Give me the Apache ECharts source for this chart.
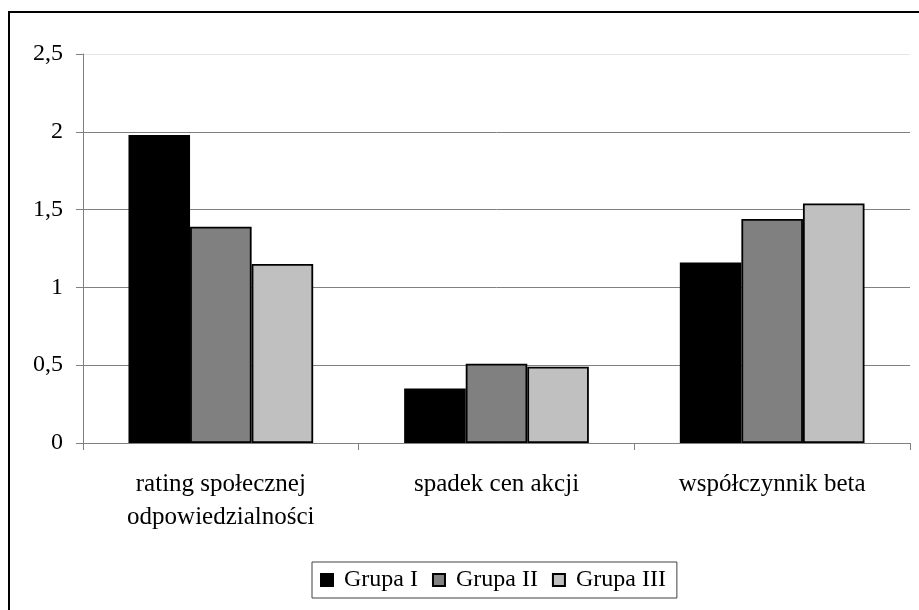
<!DOCTYPE html>
<html>
<head>
<meta charset="utf-8">
<script src="https://cdn.jsdelivr.net/npm/echarts@6/dist/echarts.min.js"></script>
<style>html,body{margin:0;padding:0;background:#fff;}#c{width:919px;height:610px;}</style>
</head>
<body>
<div id="c"></div>
<script>
const categories = ['rating społecznej\nodpowiedzialności', 'spadek cen akcji', 'współczynnik beta'];
const seriesNames = ['Grupa I', 'Grupa II', 'Grupa III'];
const grupa1 = [1.98, 0.35, 1.16];
const grupa2 = [1.39, 0.51, 1.44];
const grupa3 = [1.15, 0.49, 1.54];
const colors = ['#000000', '#808080', '#c0c0c0'];
const font = "'Liberation Serif', 'Times New Roman', serif";

const chart = echarts.init(document.getElementById('c'));
const values = [grupa1, grupa2, grupa3];
chart.setOption({
  animation: false,
  backgroundColor: '#ffffff',
  textStyle: { fontFamily: font },
  grid: { left: 83, right: 9, top: 54, bottom: 167, containLabel: false },
  legend: {
    data: seriesNames,
    left: 312, top: 562,
    orient: 'horizontal',
    itemWidth: 12, itemHeight: 12, itemGap: 14,
    icon: 'rect',
    borderColor: '#404040', borderWidth: 1,
    padding: [6, 11, 6, 8],
    textStyle: { fontFamily: font, fontSize: 24, color: '#000', padding: [0, 0, 0, 6] }
  },
  xAxis: {
    type: 'category',
    data: categories,
    axisLine: { lineStyle: { color: '#808080', width: 1 } },
    axisTick: { show: true, length: 7, lineStyle: { color: '#808080' } },
    axisLabel: { fontFamily: font, fontSize: 25, color: '#000', margin: 25, lineHeight: 33, interval: 0 },
    splitLine: { show: false }
  },
  yAxis: {
    type: 'value',
    min: 0, max: 2.5, interval: 0.5,
    axisLine: { show: true, lineStyle: { color: '#808080', width: 1 } },
    axisTick: { show: true, length: 7, lineStyle: { color: '#808080' } },
    axisLabel: { fontFamily: font, fontSize: 24, color: '#000', margin: 20,
      formatter: v => String(v).replace('.', ',') },
    splitLine: { show: true, lineStyle: { color: ['#808080','#808080','#808080','#808080','#808080','#e6e6e6'], width: 1 } }
  },
  series: seriesNames.map((n, i) => ({
    name: n,
    type: 'bar',
    data: values[i],
    barGap: '0%',
    barCategoryGap: '33%',
    itemStyle: { color: colors[i], borderColor: '#000', borderWidth: 1.8 }
  })),
  graphic: [{
    type: 'rect',
    shape: { x: 9, y: 12, width: 925, height: 610 },
    style: { fill: 'none', stroke: '#000', lineWidth: 2 },
    z: 100
  }]
});
</script>
</body>
</html>
